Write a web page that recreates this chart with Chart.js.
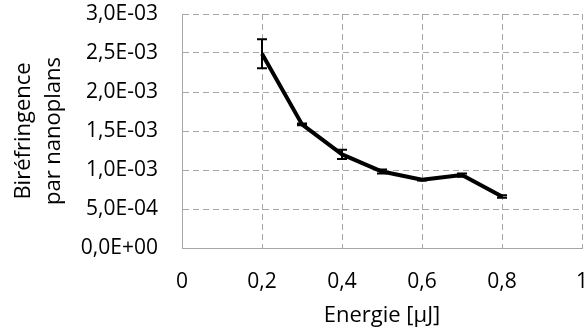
<!DOCTYPE html>
<html>
<head>
<meta charset="utf-8">
<script src="https://cdn.jsdelivr.net/npm/chart.js@4/dist/chart.umd.min.js"></script>
<style>
  html, body { margin: 0; padding: 0; background: #fff; }
  #wrap { width: 586px; height: 331px; }
</style>
</head>
<body>
<div id="wrap"><canvas id="myChart"></canvas></div>
<script>
// energy (µJ) and birefringence per nanoplane, with error bar half-widths
const energies = [0.2, 0.3, 0.4, 0.5, 0.6, 0.7, 0.8];
const biref = [0.00249, 0.001585, 0.0012, 0.00098, 0.000875, 0.000935, 0.00066];
const birefErr = [0.000185, 0.00001, 0.00006, 0.000025, 0.00001, 0.00002, 0.000015];

const xTicks = [0, 0.2, 0.4, 0.6, 0.8, 1];
const yTicks = [0, 0.0005, 0.001, 0.0015, 0.002, 0.0025, 0.003];

const fontFamily = "'Open Sans', sans-serif";
const gridColor = '#a6a6a6';

// 2.5e-3 -> "2,5E-03"
function sciLabel(v) {
  let s = Number(v).toExponential(1);
  let parts = s.split('e');
  let exp = parseInt(parts[1], 10);
  let sign = exp < 0 ? '-' : '+';
  return parts[0].replace('.', ',') + 'E' + sign + String(Math.abs(exp)).padStart(2, '0');
}

// draw the error bars with the chart's own scales
const errorBars = {
  id: 'errorBars',
  afterDatasetsDraw(chart) {
    const ctx = chart.ctx;
    const xs = chart.scales.x;
    const ys = chart.scales.y;
    ctx.save();
    ctx.strokeStyle = '#000';
    ctx.lineWidth = 2;
    for (let i = 0; i < energies.length; i++) {
      let px = xs.getPixelForValue(energies[i]);
      let top = ys.getPixelForValue(biref[i] + birefErr[i]);
      let bot = ys.getPixelForValue(biref[i] - birefErr[i]);
      ctx.beginPath();
      ctx.moveTo(px, top); ctx.lineTo(px, bot);
      ctx.moveTo(px - 5, top); ctx.lineTo(px + 5, top);
      ctx.moveTo(px - 5, bot); ctx.lineTo(px + 5, bot);
      ctx.stroke();
    }
    ctx.restore();
  }
};

const ctx = document.getElementById('myChart');

const data = {
  datasets: [{
    data: energies.map((e, i) => ({ x: e, y: biref[i] })),
    borderColor: '#000',
    borderWidth: 4,
    borderJoinStyle: 'round',
    pointRadius: 0,
    tension: 0,
    fill: false
  }]
};

const config = {
  type: 'line',
  data: data,
  plugins: [errorBars],
  options: {
    responsive: true,
    maintainAspectRatio: false,
    animation: false,
    layout: { padding: { top: 14, right: 4, bottom: 0, left: 0 } },
    plugins: {
      legend: { display: false },
      tooltip: { enabled: false }
    },
    scales: {
      x: {
        type: 'linear',
        min: 0,
        max: 1,
        afterBuildTicks: (scale) => { scale.ticks = xTicks.map(v => ({ value: v })); },
        afterFit: (scale) => { scale.height = 83; scale.paddingLeft = 0; scale.paddingRight = 0; },
        ticks: {
          color: '#000',
          padding: 21,
          maxRotation: 0,
          font: { family: fontFamily, size: 21 },
          callback: (v) => String(Number(v.toFixed(1))).replace('.', ',')
        },
        grid: { color: gridColor, lineWidth: 1, drawTicks: false },
        border: { display: true, color: gridColor, width: 1, dash: [6, 4] },
        title: {
          display: true,
          text: 'Energie [µJ]',
          color: '#000',
          font: { family: fontFamily, size: 22, lineHeight: 1.2 },
          padding: { top: 0, bottom: 2 }
        }
      },
      y: {
        min: 0,
        max: 0.003,
        afterBuildTicks: (scale) => { scale.ticks = yTicks.map(v => ({ value: v })); },
        afterFit: (scale) => { scale.width = 182; scale.paddingTop = 0; scale.paddingBottom = 0; },
        ticks: {
          color: '#000',
          padding: 24,
          font: { family: fontFamily, size: 21 },
          callback: (v) => sciLabel(v)
        },
        grid: { color: gridColor, lineWidth: 1, drawTicks: false },
        border: { display: true, color: gridColor, width: 1, dash: [6, 4] },
        title: {
          display: true,
          text: ['Biréfringence', 'par nanoplans'],
          color: '#000',
          font: { family: fontFamily, size: 22, lineHeight: 1.36 },
          padding: { top: 9, bottom: 0 }
        }
      }
    }
  }
};

new Chart(ctx, config);
</script>
</body>
</html>
